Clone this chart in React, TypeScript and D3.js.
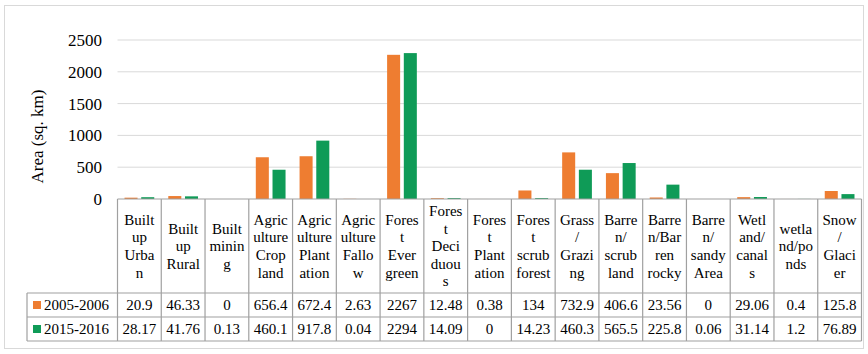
import React from "react";
import * as d3 from "d3";

const categoryLines: string[][] = [
  ["Built", "up", "Urba", "n"],
  ["Built", "up", "Rural"],
  ["Built", "minin", "g"],
  ["Agric", "ulture", "Crop", "land"],
  ["Agric", "ulture", "Plant", "ation"],
  ["Agric", "ulture", "Fallo", "w"],
  ["Fores", "t", "Ever", "green"],
  ["Fores", "t", "Deci", "duou", "s"],
  ["Fores", "t", "Plant", "ation"],
  ["Fores", "t", "scrub", "forest"],
  ["Grass", "/", "Grazi", "ng"],
  ["Barre", "n/", "scrub", "land"],
  ["Barre", "n/Bar", "ren", "rocky"],
  ["Barre", "n/", "sandy", "Area"],
  ["Wetl", "and/", "canal", "s"],
  ["wetla", "nd/po", "nds"],
  ["Snow", "/", "Glaci", "er"],
];

const seriesNames = ["2005-2006", "2015-2016"];
const values2005 = [20.9, 46.33, 0, 656.4, 672.4, 2.63, 2267, 12.48, 0.38, 134, 732.9, 406.6, 23.56, 0, 29.06, 0.4, 125.8];
const values2015 = [28.17, 41.76, 0.13, 460.1, 917.8, 0.04, 2294, 14.09, 0, 14.23, 460.3, 565.5, 225.8, 0.06, 31.14, 1.2, 76.89];
const yTicks = [0, 500, 1000, 1500, 2000, 2500];
const colors = ["#EE7D31", "#0F9B57"];
const axisTitle = "Area (sq. km)";

export default function App() {
  const W = 868, H = 354;
  const left = 117.5, right = 861.5;
  const top = 40, zeroY = 199;
  const headerBottom = 293, row1Bottom = 317, row2Bottom = 341;
  const legendLeft = 27;
  const fontStyle = { fontFamily: "Liberation Serif" };
  const idx = categoryLines.map((_, i) => String(i));

  const x = d3.scaleBand<string>().domain(idx).range([left, right]).paddingInner(0).paddingOuter(0);
  const x1 = d3.scaleBand<string>().domain(["0", "1"]).range([0, x.bandwidth()]).paddingInner(0.22).paddingOuter(0.42);
  const y = d3.scaleLinear().domain([0, 2500]).range([zeroY, top]);
  const series = [values2005, values2015];
  const gray = "#a0a0a0";
  const lineH = 17.6;

  return (
    <svg width={W} height={H} style={{ position: "absolute", left: 0, top: 0, background: "#fff" }}>
      <rect x={4.5} y={5.5} width={859} height={343} fill="#fff" stroke="#d9d9d9" strokeWidth={1} />
      {yTicks.map((t) => (
        <g key={t}>
          {t > 0 && <line x1={left} x2={right} y1={y(t)} y2={y(t)} stroke="#d9d9d9" strokeWidth={1} />}
          <text x={102} y={y(t)} dy="0.35em" textAnchor="end" style={fontStyle} fontSize={17} fill="#000">
            {t}
          </text>
        </g>
      ))}
      <text
        transform={`translate(43,${(top + zeroY) / 2 + 17}) rotate(-90)`}
        textAnchor="middle"
        style={fontStyle}
        fontSize={17}
        fill="#000"
      >
        {axisTitle}
      </text>
      {series.map((vals, s) =>
        vals.map((v, i) =>
          v > 0 ? (
            <rect
              key={`${s}-${i}`}
              x={(x(String(i)) as number) + (x1(String(s)) as number)}
              y={y(v)}
              width={x1.bandwidth()}
              height={Math.max(0, zeroY - y(v))}
              fill={colors[s]}
            />
          ) : null
        )
      )}
      <g stroke={gray} strokeWidth={1.2} fill="none">
        <line x1={left} x2={right} y1={zeroY} y2={zeroY} />
        <line x1={legendLeft} x2={right} y1={headerBottom} y2={headerBottom} />
        <line x1={legendLeft} x2={right} y1={row1Bottom} y2={row1Bottom} />
        <line x1={legendLeft} x2={right} y1={row2Bottom} y2={row2Bottom} />
        <line x1={legendLeft} x2={legendLeft} y1={headerBottom} y2={row2Bottom} />
        {idx.map((d) => (
          <line key={d} x1={x(d)} x2={x(d)} y1={zeroY} y2={row2Bottom} />
        ))}
        <line x1={right} x2={right} y1={zeroY} y2={row2Bottom} />
      </g>
      {categoryLines.map((lines, i) => {
        const cx = (x(String(i)) as number) + x.bandwidth() / 2;
        const cy = (zeroY + headerBottom) / 2;
        const startY = cy - ((lines.length - 1) * lineH) / 2;
        return (
          <text key={i} textAnchor="middle" style={fontStyle} fontSize={15} fill="#000">
            {lines.map((l, j) => (
              <tspan key={j} x={cx} y={startY + j * lineH} dy="0.35em">
                {l}
              </tspan>
            ))}
          </text>
        );
      })}
      {series.map((vals, s) => {
        const rowTop = s === 0 ? headerBottom : row1Bottom;
        const rowBottom = s === 0 ? row1Bottom : row2Bottom;
        const cy = (rowTop + rowBottom) / 2;
        return (
          <g key={s}>
            <rect x={33} y={cy - 4} width={8} height={8} fill={colors[s]} />
            <text x={44} y={cy} dy="0.35em" style={fontStyle} fontSize={15} fill="#000">
              {seriesNames[s]}
            </text>
            {vals.map((v, i) => (
              <text
                key={i}
                x={(x(String(i)) as number) + x.bandwidth() / 2}
                y={cy}
                dy="0.35em"
                textAnchor="middle"
                style={fontStyle}
                fontSize={15}
                fill="#000"
              >
                {String(v)}
              </text>
            ))}
          </g>
        );
      })}
    </svg>
  );
}
